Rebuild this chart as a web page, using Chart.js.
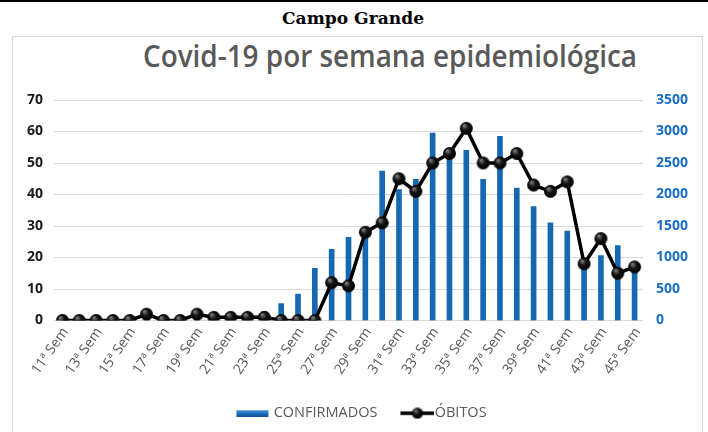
<!DOCTYPE html>
<html>
<head>
<meta charset="utf-8">
<script src="https://cdn.jsdelivr.net/npm/chart.js@4/dist/chart.umd.min.js"></script>
<style>
  html,body{margin:0;padding:0;background:#fff;}
  body{width:708px;height:432px;overflow:hidden;position:relative;}
  #topline{position:absolute;left:0;top:0;width:708px;height:2px;background:#000;}
  #t1{position:absolute;left:0;top:11px;white-space:nowrap;font-family:'DejaVu Serif';font-weight:bold;font-size:16px;line-height:16px;color:#000;transform-origin:0 0;}
  #box{position:absolute;left:12px;top:36px;width:689px;height:420px;border:1px solid #d9d9d9;}
  #t2{position:absolute;left:143px;top:41px;white-space:nowrap;font-family:'Open Sans';font-weight:600;font-size:30px;line-height:30px;color:#595959;transform-origin:0 0;}
  #wrap{position:absolute;left:13px;top:37px;width:689px;height:395px;}
</style>
</head>
<body>
<div id="topline"></div>
<div id="t1">Campo Grande</div>
<div id="box"></div>
<div id="t2">Covid-19 por semana epidemiológica</div>
<div id="wrap"><canvas id="c"></canvas></div>
<script>
const weekLabels = ["11ª Sem","12ª Sem","13ª Sem","14ª Sem","15ª Sem","16ª Sem","17ª Sem","18ª Sem","19ª Sem","20ª Sem","21ª Sem","22ª Sem","23ª Sem","24ª Sem","25ª Sem","26ª Sem","27ª Sem","28ª Sem","29ª Sem","30ª Sem","31ª Sem","32ª Sem","33ª Sem","34ª Sem","35ª Sem","36ª Sem","37ª Sem","38ª Sem","39ª Sem","40ª Sem","41ª Sem","42ª Sem","43ª Sem","44ª Sem","45ª Sem"];
const confirmados = [5,12,25,30,20,25,20,30,40,45,60,90,140,270,420,830,1130,1320,1380,2370,2080,2240,2975,2600,2700,2240,2925,2100,1810,1550,1420,880,1030,1190,820];
const obitos = [0,0,0,0,0,2,0,0,2,1,1,1,1,0,0,0,12,11,28,31,45,41,50,53,61,50,50,53,43,41,44,18,26,15,17];
const leftAxis = {min:0, max:70, step:10};
const rightAxis = {min:0, max:3500, step:500};

// fit header texts to the reference widths
function fit(id, targetW){
  const el = document.getElementById(id);
  const w = el.getBoundingClientRect().width;
  el.style.transform = 'scaleX(' + (targetW / w) + ')';
  return el;
}
const t1 = fit('t1', 142);
t1.style.left = '282px';
fit('t2', 494);

function makeDot(r){
  const s = Math.ceil(2*r+2);
  const c = document.createElement('canvas'); c.width = s; c.height = s;
  const g = c.getContext('2d');
  const gr = g.createRadialGradient(s/2 - r*0.35, s/2 - r*0.45, r*0.1, s/2, s/2, r);
  gr.addColorStop(0, '#7a7a7a'); gr.addColorStop(0.45, '#141414'); gr.addColorStop(1, '#000');
  g.fillStyle = gr; g.beginPath(); g.arc(s/2, s/2, r, 0, Math.PI*2); g.fill();
  return c;
}
function barSwatch(){
  const c = document.createElement('canvas'); c.width = 36; c.height = 8;
  const g = c.getContext('2d');
  const gr = g.createLinearGradient(0,0,0,8);
  gr.addColorStop(0,'#5aa6e6'); gr.addColorStop(0.5,'#1f72c0'); gr.addColorStop(1,'#0f4f8e');
  g.fillStyle = gr; g.fillRect(3,1,32,7);
  return c;
}
function lineSwatch(){
  const c = document.createElement('canvas'); c.width = 44; c.height = 12;
  const g = c.getContext('2d');
  g.strokeStyle = '#000'; g.lineWidth = 3.5; g.beginPath(); g.moveTo(10,6); g.lineTo(44,6); g.stroke();
  const d = makeDot(5.5); g.drawImage(d, 27 - d.width/2, 6 - d.height/2);
  return c;
}
const dot = makeDot(6.5);
const sw1 = barSwatch(), sw2 = lineSwatch();

const legendShift = {
  id: 'legendShift',
  afterLayout(chart){ if (chart.legend){ chart.legend.left += 4; chart.legend.right += 4; } }
};

new Chart(document.getElementById('c'), {
  type: 'bar',
  plugins: [legendShift],
  data: {
    labels: weekLabels,
    datasets: [
      {type:'bar', label:'CONFIRMADOS', data: confirmados, yAxisID:'y1', backgroundColor:'#1668b2', barThickness:5, order:2},
      {type:'line', label:'ÓBITOS', data: obitos, yAxisID:'y', borderColor:'#000', borderWidth:3.5, tension:0,
       pointStyle: dot, pointRadius:6.5, pointBackgroundColor:'#000', pointBorderColor:'#000', order:1}
    ]
  },
  options: {
    responsive: true, maintainAspectRatio: false, animation: false,
    layout: {padding: {top: 63, bottom: 1.5, left: 0, right: 0}},
    plugins: {
      title: {display:false},
      tooltip: {enabled:false},
      legend: {
        position:'bottom',
        labels: {
          usePointStyle: true, pointStyleWidth: 30, padding: 20,
          color:'#595959', font:{family:'Open Sans', size:14.5},
          generateLabels: (chart) => chart.data.datasets.map((ds, i) => ({
            text: ds.label, pointStyle: i === 0 ? sw1 : sw2, fillStyle:'transparent', strokeStyle:'transparent',
            lineWidth:0, hidden:false, datasetIndex:i, fontColor:'#595959'
          }))
        }
      }
    },
    scales: {
      x: {
        offset: true,
        grid: {display:false, drawTicks:false}, border:{display:false},
        ticks: {autoSkip:false, maxRotation:55, minRotation:55, color:'#595959', padding:4, labelOffset:3,
          font:{family:'Open Sans', size:14},
          callback: (v, i) => (i % 2 === 0 ? weekLabels[i] : '')},
        afterFit: (s) => { s.height = 65.5; }
      },
      y: {
        position:'left', min:leftAxis.min, max:leftAxis.max,
        ticks: {stepSize:leftAxis.step, color:'#1a1a1a', padding:11, font:{family:'Open Sans', size:14, weight:'bold'}},
        grid: {color:'#d9d9d9', lineWidth:1, drawTicks:false}, border:{display:false},
        afterFit: (s) => { s.width = 41; }
      },
      y1: {
        position:'right', min:rightAxis.min, max:rightAxis.max,
        ticks: {stepSize:rightAxis.step, color:'#1b6ec2', padding:13, font:{family:'Open Sans', size:14, weight:'bold'},
          callback: (v) => String(v)},
        grid: {display:false, drawTicks:false}, border:{display:false},
        afterFit: (s) => { s.width = 59; }
      }
    }
  }
});
</script>
</body>
</html>
